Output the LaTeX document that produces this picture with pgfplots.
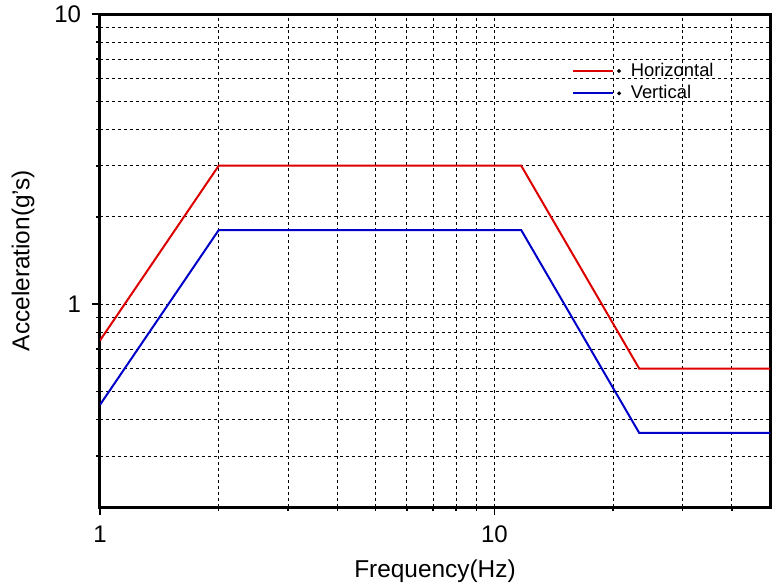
\documentclass[border=0pt]{standalone}
\usepackage{pgfplots}
\pgfplotsset{compat=1.18}
\usepackage{fontspec}
\setmainfont{Liberation Sans}

\definecolor{hred}{RGB}{220,0,0}
\definecolor{vblue}{RGB}{0,0,200}

\begin{document}
\begin{tikzpicture}
    \begin{axis}[
            scale only axis,
            width = 335pt,
            height = 246.5pt,
            xmode = log,
            ymode = log,
            xmin = 1, xmax = 50,
            ymin = 0.2, ymax = 10,
            xtick = {1,10},
            xticklabels = {1,10},
            ytick = {1,10},
            yticklabels = {1,10},
            minor xtick = {2,3,4,5,6,7,8,9,20,30,40},
            minor ytick = {0.3,0.4,0.5,0.6,0.7,0.8,0.9,2,3,4,5,6,7,8,9},
            xtick pos = bottom,
            ytick pos = left,
            tick align = outside,
            major tick length = 4pt,
            minor tick length = 1.8pt,
            every tick/.style = {black, line width = 0.8pt},
            grid = both,
            major grid style = {black, line width = 0.4pt, dash pattern = on 1.5pt off 1.5pt},
            minor grid style = {black, line width = 0.4pt, dash pattern = on 1.5pt off 1.5pt},
            axis line style = {line width = 1.5pt},
            tick label style = {font = \fontsize{12}{14}\selectfont},
            xticklabel style = {yshift = -2pt},
            yticklabel style = {xshift = -2pt},
            xlabel = {Frequency(Hz)},
            ylabel = {Acceleration(g's)},
            label style = {font = \fontsize{12.2}{14}\selectfont},
            xlabel style = {yshift = -1.5pt},
            ylabel style = {yshift = 3pt},
            legend style = {
                at = {(0.695,0.918)}, anchor = north west,
                draw = none, fill = none,
                font = \fontsize{9.2}{10}\selectfont,
                row sep = -1pt,
                column sep = 3pt,
                nodes = {inner xsep = 2pt},
            },
            legend cell align = {left},
            legend image code/.code = {
                \draw[#1, line width = 1pt] (0pt,0pt) -- (20pt,0pt);
                \fill[black] (23pt,0pt) circle (0.35pt);
            },
            ]
        \addplot[hred, line width = 1pt] coordinates {
            (1,0.75)
            (2,3)
            (11.7,3)
            (23.3,0.6)
            (50,0.6)};
        \addplot[vblue, line width = 1pt] coordinates {
            (1,0.45)
            (2,1.8)
            (11.7,1.8)
            (23.3,0.36)
            (50,0.36)};
        \legend{Horizontal, Vertical}
    \end{axis}
    \pgfresetboundingbox
    \path ([shift={(-50pt,-40pt)}]current axis.south west) rectangle ([shift={(4pt,7pt)}]current axis.north east);
\end{tikzpicture}
\end{document}
